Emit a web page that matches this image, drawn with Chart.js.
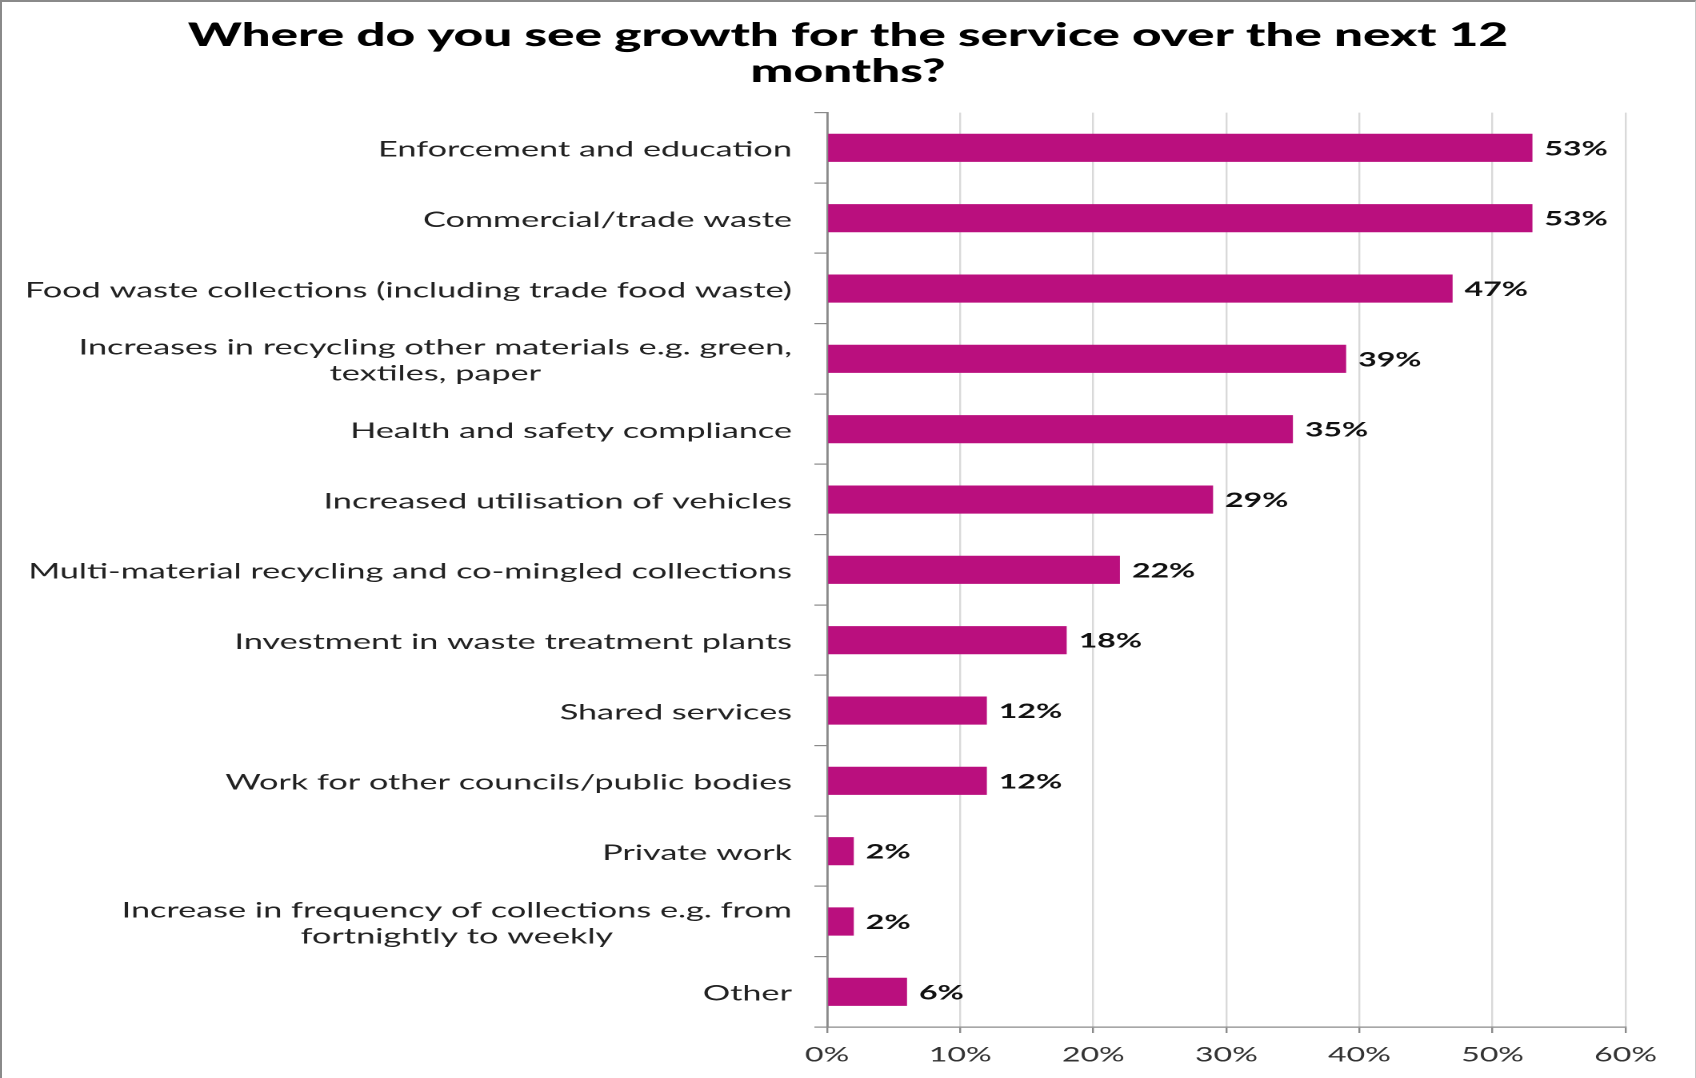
<!DOCTYPE html>
<html>
<head>
<meta charset="utf-8">
<script src="https://cdn.jsdelivr.net/npm/chart.js@4"></script>
<style>
  html, body { margin: 0; padding: 0; background: #fff; overflow: hidden; }
  #wrap {
    position: absolute; left: 0; top: 0;
    width: 1060px; height: 1078px;
    transform: scaleX(1.6); transform-origin: 0 0;
  }
  #frame {
    position: absolute; left: 0; top: 0;
    width: 1696px; height: 1078px; box-sizing: border-box;
    border-left: 2px solid #8a8a8a; border-top: 2px solid #8a8a8a; border-right: 1px solid #c8c8c8;
    pointer-events: none;
  }
</style>
</head>
<body>
<div id="wrap"><canvas id="grafico" width="1060" height="1078"></canvas></div>
<div id="frame"></div>
<script>
document.addEventListener("DOMContentLoaded", function () {

    const categorias = [
        ["Enforcement and education"],
        ["Commercial/trade waste"],
        ["Food waste collections (including trade food waste)"],
        ["Increases in recycling other materials e.g. green,", "textiles, paper"],
        ["Health and safety compliance"],
        ["Increased utilisation of vehicles"],
        ["Multi-material recycling and co-mingled collections"],
        ["Investment in waste treatment plants"],
        ["Shared services"],
        ["Work for other councils/public bodies"],
        ["Private work"],
        ["Increase in frequency of collections e.g. from", "fortnightly to weekly"],
        ["Other"]
    ];

    const percentuais = [53, 53, 47, 39, 35, 29, 22, 18, 12, 12, 2, 2, 6];

    const marcasX = [0, 10, 20, 30, 40, 50, 60];

    const titulo = [
        "Where do you see growth for the service over the next 12",
        "months?"
    ];

    // category labels: each block centred on its widest line, right edge fixed
    const rotulosY = {
        id: "rotulosY",
        afterDraw(chart) {
            const ctx = chart.ctx;
            const y = chart.scales.y;
            const direita = chart.chartArea.left - 22;
            ctx.save();
            ctx.font = "21.4px Lato";
            ctx.fillStyle = "#222";
            ctx.textAlign = "center";
            ctx.textBaseline = "middle";
            categorias.forEach(function (linhas, i) {
                const largura = Math.max.apply(null, linhas.map(l => ctx.measureText(l).width));
                const cx = direita - largura / 2;
                const cy = y.getPixelForValue(i) + 2;
                linhas.forEach(function (linha, j) {
                    ctx.fillText(linha, cx, cy + (j - (linhas.length - 1) / 2) * 26);
                });
            });
            ctx.restore();
        }
    };

    // value labels just past the end of each bar
    const rotulosValor = {
        id: "rotulosValor",
        afterDatasetsDraw(chart) {
            const ctx = chart.ctx;
            const barras = chart.getDatasetMeta(0).data;
            ctx.save();
            ctx.font = "bold 20px Lato";
            ctx.fillStyle = "#111";
            ctx.textAlign = "left";
            ctx.textBaseline = "middle";
            barras.forEach(function (b, i) {
                ctx.fillText(percentuais[i] + "%", b.x + 7.5, b.y + 1);
            });
            ctx.restore();
        }
    };

    new Chart(document.getElementById("grafico"), {
        type: "bar",
        data: {
            labels: categorias.map(l => l.join(" ")),
            datasets: [{
                data: percentuais,
                backgroundColor: "#BA0F7E",
                borderWidth: 0,
                categoryPercentage: 1,
                barPercentage: 0.4
            }]
        },
        options: {
            indexAxis: "y",
            responsive: false,
            devicePixelRatio: 2,
            animation: false,
            layout: {
                padding: { left: 0, right: 0, top: 0, bottom: 1 }
            },
            plugins: {
                legend: { display: false },
                tooltip: { enabled: false },
                title: {
                    display: true,
                    text: titulo,
                    color: "#000",
                    font: { family: "Lato", size: 32, weight: "900", lineHeight: 1.12 },
                    padding: { top: 18, bottom: 23 }
                }
            },
            scales: {
                x: {
                    min: 0,
                    max: 60,
                    afterBuildTicks(axis) {
                        axis.ticks = marcasX.map(v => ({ value: v }));
                    },
                    afterFit(axis) {
                        axis.paddingRight = 44;
                    },
                    ticks: {
                        color: "#333",
                        font: { family: "Lato", size: 20 },
                        padding: 10,
                        callback: v => v + "%"
                    },
                    grid: {
                        color: "#d9d9d9",
                        lineWidth: 1.2,
                        tickColor: "#8a8a8a",
                        tickLength: 6
                    },
                    border: { color: "#8a8a8a", width: 1.2 }
                },
                y: {
                    afterFit(axis) {
                        axis.width = 517;
                    },
                    ticks: { display: false },
                    grid: {
                        offset: true,
                        drawOnChartArea: false,
                        tickColor: "#8a8a8a",
                        tickLength: 8,
                        lineWidth: 1.2
                    },
                    border: { color: "#8a8a8a", width: 1.4 }
                }
            }
        },
        plugins: [rotulosY, rotulosValor]
    });

});
</script>
</body>
</html>
